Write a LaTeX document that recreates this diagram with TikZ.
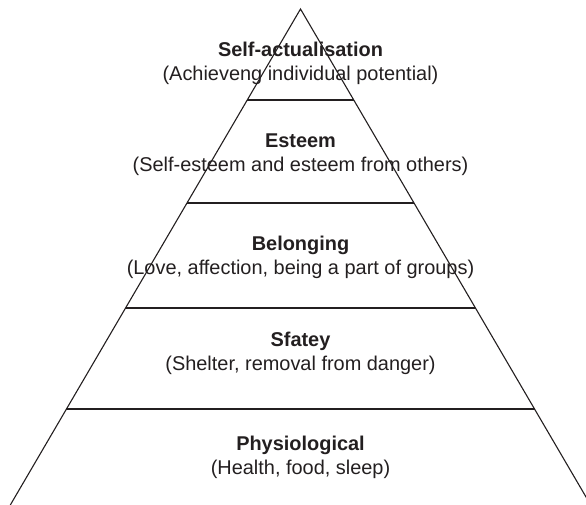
\documentclass[tikz,border=0pt]{standalone}
\usepackage{fontspec}
\setmainfont{Liberation Sans}
\usetikzlibrary{calc}
\definecolor{ink}{HTML}{231F20}
\tikzset{
  level/.style={align=center, text=ink, font=\fontsize{20}{24}\selectfont, inner sep=0pt},
  edge/.style={draw=ink, line width=1.1bp},
}
\begin{document}
\begin{tikzpicture}[x=1bp,y=-1bp]
\useasboundingbox (0,0) rectangle (586,505);
\clip (0,0) rectangle (586,505);
\coordinate (A) at (300.5,9);
\coordinate (L) at (10.3,505);
\coordinate (R) at (590.7,505);
\draw[edge] (L) -- (A) -- (R);
% horizontal dividers
\foreach \yy/\nm in {100/d1,203/d2,308/d3,409/d4}{
  \pgfmathsetmacro{\tt}{(\yy-9)/496}
  \coordinate (\nm l) at ($(A)!\tt!(L)$);
  \coordinate (\nm r) at ($(A)!\tt!(R)$);
  \draw[edge] (\nm l) -- (\nm r);
}
\node[level] (selfact) at (300.5,63) {\textbf{Self-actualisation}\\(Achieveng individual potential)};
\node[level] (esteem) at (300.5,155) {\textbf{Esteem}\\(Self-esteem and esteem from others)};
\node[level] (belong) at (300.5,257.5) {\textbf{Belonging}\\(Love, affection, being a part of groups)};
\node[level] (safety) at (300.5,353.5) {\textbf{Sfatey}\\(Shelter, removal from danger)};
\node[level] (physio) at (300.5,457) {\textbf{Physiological}\\(Health, food, sleep)};
\end{tikzpicture}
\end{document}
